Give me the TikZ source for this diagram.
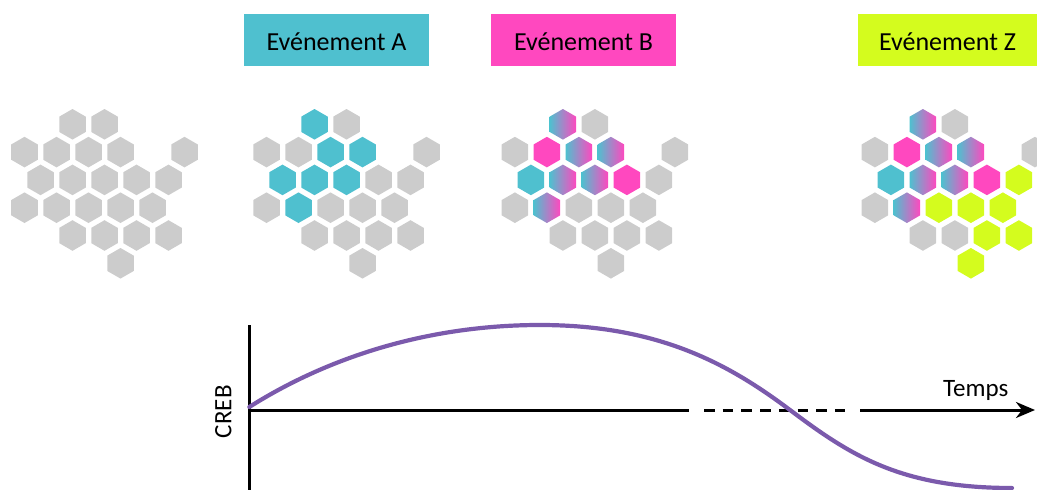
\documentclass[tikz,border=0pt]{standalone}
\usepackage{fontspec}
\setmainfont{Carlito}
\usetikzlibrary{arrows.meta}
\definecolor{hgray}{RGB}{204,204,204}
\definecolor{hcyan}{RGB}{79,192,207}
\definecolor{hpink}{RGB}{255,72,191}
\definecolor{hlime}{RGB}{212,252,30}
\definecolor{curvepurple}{RGB}{123,90,172}
\newcommand\cells[3]{\foreach \r/\k in {#3}{\pgfmathsetmacro\xx{#1+40.5-16*mod(\r,2)+32*\k}\pgfmathsetmacro\yy{124.3+27.8*\r}\pic[fill=#2] at (\xx,\yy) {hexa};}}
\newcommand\gradcells[2]{\foreach \r/\k in {#2}{\pgfmathsetmacro\xx{#1+40.5-16*mod(\r,2)+32*\k}\pgfmathsetmacro\yy{124.3+27.8*\r}\pic[gradhex] at (\xx,\yy) {hexa};}}
\begin{document}
\begin{tikzpicture}[x=1pt,y=-1pt,
 hexa/.pic={\path[pic actions] (90:15.3) -- (150:15.3) -- (210:15.3) -- (270:15.3) -- (330:15.3) -- (30:15.3) -- cycle;},
 gradhex/.style={left color=hcyan, right color=hpink},
 evbox/.style={rectangle, inner sep=0pt, minimum height=52pt, text height=20pt, text depth=0pt, font=\fontsize{26}{30}\selectfont},
 axislabel/.style={inner sep=0pt, font=\fontsize{25}{30}\selectfont},
 axisline/.style={line width=3pt, black},
 curveline/.style={line width=4.2pt, curvepurple, line cap=round}]
\useasboundingbox (0,0) rectangle (1037,490);
% event labels
\node[evbox, fill=hcyan, minimum width=185pt] (evA) at (336.5,40) {Evénement A};
\node[evbox, fill=hpink, minimum width=185pt] (evB) at (583.5,40) {Evénement B};
\node[evbox, fill=hlime, minimum width=179pt] (evZ) at (947.5,40) {Evénement Z};
% cluster 1
\cells{0}{hgray}{0/1,0/2,1/0,1/1,1/2,1/3,1/5,2/0,2/1,2/2,2/3,2/4,3/0,3/1,3/2,3/3,3/4,4/1,4/2,4/3,4/4,5/3}
% cluster 2
\cells{242}{hgray}{0/2,1/0,1/1,1/5,2/3,2/4,3/0,3/2,3/3,3/4,4/1,4/2,4/3,4/4,5/3}
\cells{242}{hcyan}{0/1,1/2,1/3,2/0,2/1,2/2,3/1}
% cluster 3
\cells{490.4}{hgray}{0/2,1/0,1/5,2/4,3/0,3/2,3/3,3/4,4/1,4/2,4/3,4/4,5/3}
\cells{490.4}{hpink}{1/1,2/3}
\cells{490.4}{hcyan}{2/0}
\gradcells{490.4}{0/1,1/2,1/3,2/1,2/2,3/1}
% cluster 4
\cells{850.4}{hgray}{0/2,1/0,1/5,3/0,4/1,4/2}
\cells{850.4}{hpink}{1/1,2/3}
\cells{850.4}{hcyan}{2/0}
\gradcells{850.4}{0/1,1/2,1/3,2/1,2/2,3/1}
\cells{850.4}{hlime}{2/4,3/2,3/3,3/4,4/3,4/4,5/3}
% axes
\coordinate (ytop) at (249.3,325);
\coordinate (ybot) at (249.3,490);
\coordinate (orig) at (249.3,410);
\coordinate (s1) at (689,410);
\coordinate (d1) at (704,410);
\coordinate (d2) at (846,410);
\coordinate (s2) at (860,410);
\coordinate (tip) at (1035,410);
\draw[axisline] (ytop) -- (ybot);
\draw[axisline] (orig) -- (s1);
\draw[axisline, dash pattern=on 10.5pt off 8.2pt] (d1) -- (d2);
\draw[axisline, -{Stealth[length=19pt,width=16pt,inset=6pt]}] (s2) -- (tip);
\node[axislabel, anchor=base west] (temps) at (943,396.5) {Temps};
\node[axislabel, rotate=90] (creb) at (223.3,411.7) {CREB};
% curve
\coordinate (c0) at (249.3,407);
\coordinate (c1) at (540,325);
\coordinate (c2) at (790,410);
\coordinate (c3) at (1012,488);
\draw[curveline] (c0) .. controls (330,356) and (430,325) .. (c1)
  .. controls (660,325) and (730,365) .. (c2)
  .. controls (850,455) and (900,488) .. (c3);
\end{tikzpicture}
\end{document}
